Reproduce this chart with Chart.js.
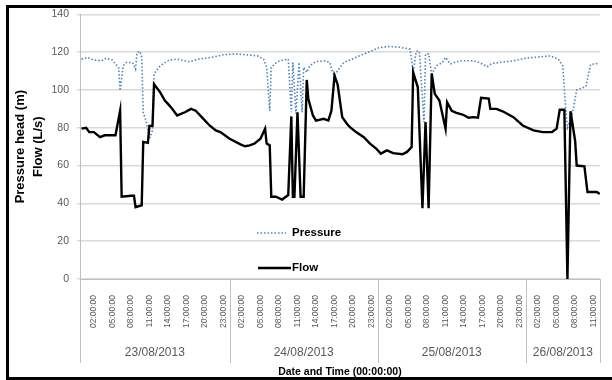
<!DOCTYPE html>
<html>
<head>
<meta charset="utf-8">
<script src="https://cdn.jsdelivr.net/npm/chart.js@4.4.0/dist/chart.umd.min.js"></script>
<style>
  html, body { margin: 0; padding: 0; background: #fff; overflow: hidden; width: 612px; height: 380px; }
  #frame { position: absolute; left: 6px; top: 5px; width: 606px; height: 375px;
           border: 3px solid #000; border-right: none; box-sizing: border-box; }
  #chart { position: absolute; left: 0; top: 0; }
</style>
</head>
<body>
<div id="frame"></div>
<canvas id="chart" width="612" height="380"></canvas>
<script>
// hours counted from 23/08/2013 00:00
var flowHours = [0, 0.75, 1.25, 2, 3, 3.75, 5.5, 6.25, 6.5, 8, 8.5, 8.75, 9.75, 10, 10.75, 11, 11.5, 11.75,
  12.75, 13.5, 14, 14.5, 15.5, 16.75, 17.75, 18.5, 19.75, 20.75, 21.75, 22.5, 24, 25.75, 26.5, 27.25, 28, 29,
  29.75, 30, 30.5, 30.75, 31.5, 32.5, 33.5, 34, 34.25, 34.5, 35, 35.5, 36, 36.5, 36.75, 37.5, 38, 39.25, 40,
  40.5, 41, 41.5, 42.25, 43, 43.5, 44.5, 45.75, 46.75, 47.75, 48.5, 49.5, 50.5, 52, 52.75, 53.5, 53.75, 54.5,
  55.25, 55.75, 56.25, 56.75, 57.25, 58, 59, 59.25, 60, 60.75, 61.75, 62.75, 63.5, 64.25, 64.75, 66, 66.25,
  67.25, 68.25, 70, 71.5, 73.25, 74.75, 76.25, 77, 77.5, 78.25, 78.75, 79.25, 80, 80.25, 81.5, 82, 83.5, 84];
var flowValues = [79.5, 80, 77.7, 77.7, 75, 76, 76, 89, 43.5, 44, 44, 38, 39, 72.5, 72, 81, 81, 103,
  98.7, 94.4, 92.6, 90.8, 86.5, 88.2, 90, 89, 84.7, 81.2, 78.6, 77.7, 74.2, 71.2, 70.2, 70.7, 71.6, 74.2,
  79.5, 71.6, 70.7, 43.5, 43.5, 42, 44.4, 86, 43.5, 43.5, 88.2, 43.5, 43.5, 105.3, 95.3, 86.5, 83.8, 84.7, 83.8,
  89, 107.5, 103, 85.6, 82.1, 80.3, 77.7, 75, 71.6, 69, 66.3, 68, 66.6, 66, 67.2, 69.8, 109.3, 101.4,
  37.4, 83, 37.4, 108.7, 97.9, 94.4, 79.5, 93.5, 89, 87.9, 87, 85.3, 85.6, 85.3, 95.8, 95.4, 90,
  90, 88.7, 85.6, 81.2, 78.6, 77.7, 77.7, 79.5, 89.5, 89.5, 0, 88.7, 73, 60, 59.6, 46, 46, 45];

var pressureHours = [0, 1, 2, 3.25, 4, 5, 5.5, 6, 6.25, 6.75, 7.25, 8.25, 8.75, 9, 9.5, 9.75, 10, 10.5, 11,
  11.5, 11.75, 12.5, 13.25, 14.25, 15.5, 17.5, 19, 21, 23, 25, 26.75, 28.5, 29.5, 30, 30.5, 30.75, 31.75,
  32.75, 33.5, 34, 34.25, 34.75, 35.25, 35.75, 36, 36.5, 37, 38, 39.5, 40.25, 40.5, 41, 41.5, 42.5, 43.5, 45,
  46.75, 48.25, 50, 51.5, 53.25, 53.75, 54.25, 54.75, 55.5, 55.75, 56.25, 56.75, 57.5, 58.5, 59, 59.75, 61.25,
  63.5, 64.5, 65.75, 66.5, 67.75, 70, 72, 74.25, 76, 77.25, 78, 78.5, 78.75, 79.5, 80.25, 81.75, 82.5, 83.75];
var pressureValues = [116.3, 117.2, 115.8, 115.4, 116.8, 115.8, 113.7, 111.9, 99.6, 112.8, 114.5, 114.5, 111,
  119.8, 120.3, 117.2, 88, 83, 74.2, 78.6, 108.4, 111.9, 114, 115.8, 116.3, 114.9, 116.3, 117.2, 118.6, 119,
  118.6, 118, 116.3, 111.9, 89, 111.9, 115, 115.8, 116.3, 88.2, 114.5, 87.4, 114.5, 88.2, 112, 109.3, 112.8,
  115, 115.4, 114.5, 111, 107.5, 110.2, 114.5, 115.8, 118, 120.3, 122.4, 123, 122.6, 121.6, 109.5, 120.5,
  120.4, 83, 119, 119, 108.4, 112.8, 114.5, 117.2, 113.7, 115.4, 115.4, 114.5, 112.3, 114, 114.5, 115.4,
  116.8, 117.5, 118, 116.3, 112.8, 89, 80, 86.5, 100, 101.7, 113.5, 114];

var tickHours = [2, 5, 8, 11, 14, 17, 20, 23, 26, 29, 32, 35, 38, 41, 44, 47, 50, 53, 56, 59, 62, 65, 68, 71,
  74, 77, 80, 83];
var dayEdges = [-0.25, 24, 48, 72, 84];
var dayLabels = ['23/08/2013', '24/08/2013', '25/08/2013', '26/08/2013'];

function toPoints(hours, values) {
  return hours.map(function (h, i) { return { x: h, y: values[i] }; });
}

// date row under the time labels, with the separators between days
var dayGroups = {
  id: 'dayGroups',
  afterDraw: function (chart) {
    var ctx = chart.ctx, xs = chart.scales.x, bottom = chart.chartArea.bottom;
    ctx.save();
    ctx.strokeStyle = '#bfbfbf';
    ctx.lineWidth = 1;
    dayEdges.forEach(function (h) {
      var px = Math.round(xs.getPixelForValue(h)) + 0.5;
      ctx.beginPath();
      ctx.moveTo(px, bottom);
      ctx.lineTo(px, 363);
      ctx.stroke();
    });
    ctx.fillStyle = '#595959';
    ctx.font = '12px "Liberation Sans"';
    ctx.textAlign = 'center';
    ctx.textBaseline = 'middle';
    dayLabels.forEach(function (d, i) {
      ctx.fillText(d, xs.getPixelForValue((dayEdges[i] + dayEdges[i + 1]) / 2), 353);
    });
    ctx.restore();
  }
};

// legend sits inside the plot, one entry per row
var innerLegend = {
  id: 'innerLegend',
  afterDraw: function (chart) {
    var ctx = chart.ctx;
    var rows = [{ ds: 1, x1: 257, x2: 286, y: 233 }, { ds: 0, x1: 258, x2: 291, y: 268 }];
    ctx.save();
    rows.forEach(function (r) {
      var ds = chart.data.datasets[r.ds];
      ctx.strokeStyle = ds.borderColor;
      ctx.lineWidth = ds.borderWidth;
      ctx.setLineDash(ds.borderDash || []);
      ctx.beginPath();
      ctx.moveTo(r.x1, r.y);
      ctx.lineTo(r.x2, r.y);
      ctx.stroke();
      ctx.setLineDash([]);
      ctx.fillStyle = '#000';
      ctx.font = 'bold 11.5px "Liberation Sans"';
      ctx.textAlign = 'left';
      ctx.textBaseline = 'middle';
      ctx.fillText(ds.label, 292, r.y);
    });
    ctx.restore();
  }
};

Chart.defaults.font.family = '"Liberation Sans", Arial, sans-serif';
Chart.defaults.color = '#595959';

new Chart(document.getElementById('chart').getContext('2d'), {
  type: 'line',
  data: {
    datasets: [{
      label: 'Flow',
      data: toPoints(flowHours, flowValues),
      borderColor: '#000',
      borderWidth: 2.4,
      pointRadius: 0,
      tension: 0
    }, {
      label: 'Pressure',
      data: toPoints(pressureHours, pressureValues),
      borderColor: '#4f81bd',
      borderWidth: 1.6,
      borderDash: [1.5, 2],
      pointRadius: 0,
      tension: 0
    }]
  },
  options: {
    responsive: false,
    animation: false,
    devicePixelRatio: 1,
    layout: { padding: { top: 13, right: 12, left: 0, bottom: 0 } },
    plugins: { legend: { display: false }, tooltip: { enabled: false } },
    scales: {
      x: {
        type: 'linear',
        min: -0.25,
        max: 84,
        afterBuildTicks: function (s) {
          s.ticks = tickHours.map(function (h) { return { value: h }; });
        },
        afterFit: function (s) { s.height = 101; },
        grid: { display: false },
        border: { color: '#bfbfbf' },
        ticks: {
          autoSkip: false,
          minRotation: 90,
          maxRotation: 90,
          padding: 8,
          font: { size: 8.5 },
          callback: function (v) {
            var h = ((v % 24) + 24) % 24;
            return (h < 10 ? '0' : '') + h + ':00:00';
          }
        },
        title: {
          display: true,
          text: 'Date and Time (00:00:00)',
          color: '#000',
          font: { size: 10.5, weight: 'bold' },
          padding: { top: 0, bottom: 2 }
        }
      },
      y: {
        min: 0,
        max: 140,
        afterFit: function (s) { s.width = 80; },
        ticks: { stepSize: 20, padding: 8, font: { size: 10.5 } },
        grid: { color: '#d9d9d9', lineWidth: 1.5, tickLength: 3 },
        border: { color: '#bfbfbf' },
        title: {
          display: true,
          text: ['Pressure head (m)', 'Flow (L/s)'],
          color: '#000',
          font: { size: 13, weight: 'bold', lineHeight: 1.4 },
          padding: { top: 11, bottom: 0 }
        }
      }
    }
  },
  plugins: [dayGroups, innerLegend]
});
</script>
</body>
</html>
